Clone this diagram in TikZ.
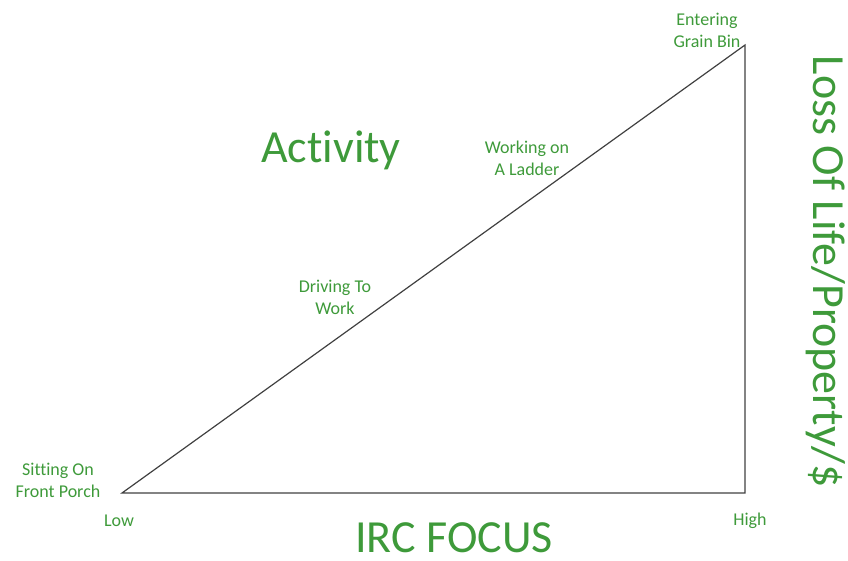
\documentclass[tikz,border=0pt]{standalone}
\usepackage{fontspec}
\setmainfont[Ligatures=NoCommon]{Carlito}
\definecolor{ircgreen}{RGB}{62,154,58}
\definecolor{edgegray}{RGB}{64,64,64}
\tikzset{
  small label/.style={text=ircgreen, font=\fontsize{18}{22}\selectfont, align=center, inner sep=0pt},
  big label/.style={text=ircgreen, font=\fontsize{46}{50}\selectfont, inner sep=0pt},
}
\begin{document}
\begin{tikzpicture}[x=1pt,y=1pt]
\useasboundingbox (0,0) rectangle (848,560);
%[triangle corners]
\coordinate (low) at (122,67);
\coordinate (top) at (745,515);
\coordinate (high) at (745,67);
\draw[edgegray, line width=1.2pt, line join=miter] (low) -- (top) -- (high) -- cycle;
\node[small label] (bin) at (707,530) {Entering\\Grain Bin};
\node[small label] (ladder) at (527,402) {Working on\\A Ladder};
\node[small label] (work) at (335,263) {Driving To\\Work};
\node[small label] (porch) at (58,80) {Sitting On\\Front Porch};
\node[small label] (lowlbl) at (119,39) {Low};
\node[small label] (highlbl) at (750,39) {High};
\node[big label] (activity) at (331,410) {Activity};
\node[big label] (focus) at (454,22) {IRC FOCUS};
\node[big label, rotate=-90] (loss) at (826,288) {Loss Of Life/Property/\$};
\end{tikzpicture}
\end{document}
